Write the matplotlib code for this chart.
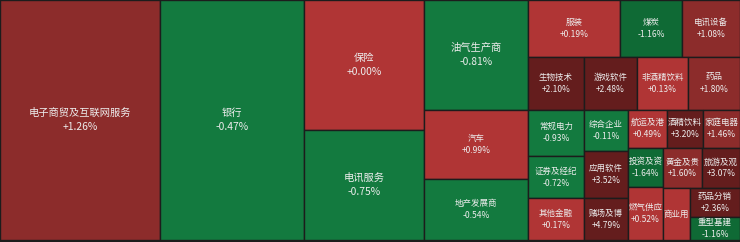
import matplotlib.pyplot as plt
from matplotlib.patches import Rectangle

# =============================================================
# 港股行业热力图 - 各行业涨跌幅 (面积 = 行业权重)
# =============================================================

plt.rcParams['font.family'] = ['Noto Sans CJK SC', 'DejaVu Sans']

# 行业名称 (按布局顺序)
industries = ['电子商贸及互联网服务', '银行', '保险', '电讯服务', '油气生产商', '汽车', '地产发展商',
              '服装', '煤炭', '电讯设备',
              '生物技术', '游戏软件', '非酒精饮料', '药品',
              '常规电力', '证券及经纪', '其他金融',
              '综合企业', '应用软件', '赌场及博',
              '航运及港', '酒精饮料', '家庭电器',
              '投资及资', '燃气供应',
              '黄金及贵', '旅游及观',
              '商业用',
              '药品分销', '重型基建']

# 涨跌幅 (%)
changes = [1.26, -0.47, 0.00, -0.75, -0.81, 0.99, -0.54,
           0.19, -1.16, 1.08,
           2.10, 2.48, 0.13, 1.80,
           -0.93, -0.72, 0.17,
           -0.11, 3.52, 4.79,
           0.49, 3.20, 1.46,
           -1.64, 0.52,
           1.60, 3.07,
           0.30,
           2.36, -1.16]

# 行业权重 (相对值)
weights = [38400, 34560, 15600, 13200, 11388, 7228, 6344,
           5198, 3503, 3277,
           2968, 2809, 2703, 2756,
           2604, 2352, 2352,
           1826, 2068, 1848,
           1502, 1386, 1424,
           1382, 1838,
           1560, 1520,
           1404,
           1450, 1150]

# 分块方式: (方向, 行业个数)  v = 竖列, h = 横行
strips = [('v', 1), ('v', 1), ('v', 2), ('v', 3), ('h', 3), ('h', 4),
          ('v', 3), ('v', 3), ('h', 3), ('v', 2), ('h', 2), ('v', 1),
          ('h', 1), ('h', 1)]


def strip_layout(sizes, strips, x, y, w, h):
    # 按顺序切分矩形, 每个块的面积与权重成正比
    scale = w * h / sum(sizes)
    rects = []
    i = 0
    for direction, n in strips:
        part = [s * scale for s in sizes[i:i + n]]
        total = sum(part)
        if direction == 'v':
            cw = total / h
            yy = y
            for a in part:
                rects.append((x, yy, cw, a / cw))
                yy += a / cw
            x += cw
            w -= cw
        else:
            rh = total / w
            xx = x
            for a in part:
                rects.append((xx, y, a / rh, rh))
                xx += a / rh
            y += rh
            h -= rh
        i += n
    return rects


def color_for(v):
    # 红涨绿跌, 颜色深浅按幅度分档
    if v >= 2:
        return '#641D1D'
    if v >= 1:
        return '#8C2C2B'
    if v >= 0:
        return '#B03535'
    if v > -1:
        return '#137A3F'
    return '#0F6A35'


W, H = 740, 240
rects = strip_layout(weights, strips, 0, 0, W, H)

fig = plt.figure(figsize=(7.4, 2.42), dpi=100)
fig.patch.set_facecolor('#1c1c1c')
ax = fig.add_axes([0, 0, 1, 1])
ax.set_facecolor('#1c1c1c')
ax.set_xlim(0, W)
ax.set_ylim(242, 0)
ax.axis('off')

for name, v, (x, y, w, h) in zip(industries, changes, rects):
    ax.add_patch(Rectangle((x, y), w, h, facecolor=color_for(v),
                           edgecolor='#1c1c1c', linewidth=1.0))
    cx, cy = x + w / 2, y + h / 2
    big = w * h > 9000
    fs = 7.4 if big else 6.1
    gap = 7 if big else 6
    if w < 30:
        ax.text(cx, cy, name, ha='center', va='center', fontsize=fs, color='#EDEDED')
    else:
        ax.text(cx, cy - gap, name, ha='center', va='center', fontsize=fs, color='#EDEDED')
        ax.text(cx, cy + gap, f'{v:+.2f}%', ha='center', va='center', fontsize=fs, color='#EDEDED')

fig.savefig('out.png', dpi=100, facecolor=fig.get_facecolor())
